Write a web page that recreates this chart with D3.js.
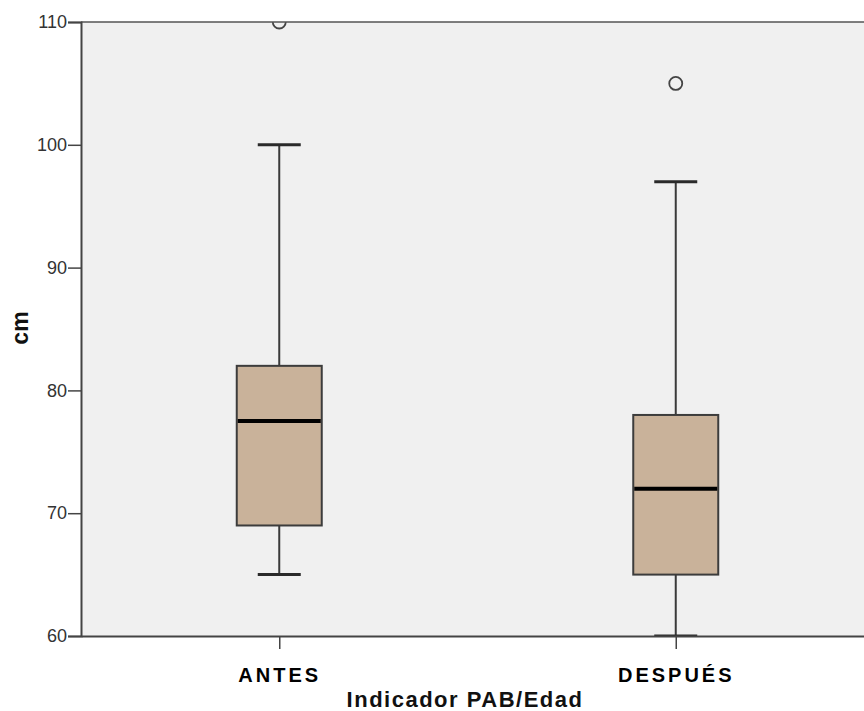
<!DOCTYPE html>
<html>
<head>
<meta charset="utf-8">
<script src="https://cdn.jsdelivr.net/npm/d3@7"></script>
<style>
  body { margin: 0; background: #fff; }
  text { font-family: "Liberation Sans", Arial, sans-serif; }
</style>
</head>
<body>
<script>
// data
var groups = ["ANTES", "DESPUÉS"];
var whiskerLow = [65, 60];
var q1 = [69, 65];
var medians = [77.5, 72];
var q3 = [82, 78];
var whiskerHigh = [100, 97];
var outliers = [[110], [105]];
var yTicks = [60, 70, 80, 90, 100, 110];

var width = 864, height = 711;
var margin = {top: 22, left: 81, bottom: 75};
var plotRight = 874;
var plotBottom = height - margin.bottom;

var svg = d3.select("body").append("svg")
    .attr("width", width)
    .attr("height", height);

var x = d3.scalePoint().domain(groups).range([margin.left, plotRight]).padding(0.5);
var y = d3.scaleLinear().domain([60, 110]).range([plotBottom, margin.top]);

svg.append("defs").append("clipPath").attr("id", "plotclip")
  .append("rect")
    .attr("x", margin.left).attr("y", margin.top)
    .attr("width", plotRight - margin.left).attr("height", plotBottom - margin.top);

// background
svg.append("rect")
    .attr("x", margin.left).attr("y", margin.top)
    .attr("width", plotRight - margin.left).attr("height", plotBottom - margin.top)
    .attr("fill", "#f0f0f0");

var boxW = 85, capW = 43;
var data = groups.map(function(g, i) {
  return {name: g, lo: whiskerLow[i], q1: q1[i], med: medians[i], q3: q3[i], hi: whiskerHigh[i], out: outliers[i]};
});

var g = svg.append("g").attr("clip-path", "url(#plotclip)");

var box = g.selectAll(".box").data(data).enter().append("g").attr("class", "box");

// whiskers
box.append("line")
    .attr("x1", function(d) { return x(d.name); })
    .attr("x2", function(d) { return x(d.name); })
    .attr("y1", function(d) { return y(d.lo); })
    .attr("y2", function(d) { return y(d.hi); })
    .attr("stroke", "#3a3a3a").attr("stroke-width", 2);

box.selectAll(".cap").data(function(d) { return [d.lo, d.hi].map(function(v) { return {name: d.name, v: v}; }); })
  .enter().append("line")
    .attr("x1", function(d) { return x(d.name) - capW / 2; })
    .attr("x2", function(d) { return x(d.name) + capW / 2; })
    .attr("y1", function(d) { return y(d.v); })
    .attr("y2", function(d) { return y(d.v); })
    .attr("stroke", "#2a2a2a").attr("stroke-width", 3);

box.append("rect")
    .attr("x", function(d) { return x(d.name) - boxW / 2; })
    .attr("y", function(d) { return y(d.q3); })
    .attr("width", boxW)
    .attr("height", function(d) { return y(d.q1) - y(d.q3); })
    .attr("fill", "#c9b29a")
    .attr("stroke", "#3c3c3c").attr("stroke-width", 2);

box.append("line")
    .attr("x1", function(d) { return x(d.name) - boxW / 2 + 1; })
    .attr("x2", function(d) { return x(d.name) + boxW / 2 - 1; })
    .attr("y1", function(d) { return y(d.med); })
    .attr("y2", function(d) { return y(d.med); })
    .attr("stroke", "#000").attr("stroke-width", 4);

box.selectAll(".out").data(function(d) { return d.out.map(function(v) { return {name: d.name, v: v}; }); })
  .enter().append("circle")
    .attr("cx", function(d) { return x(d.name); })
    .attr("cy", function(d) { return y(d.v); })
    .attr("r", 6.5)
    .attr("fill", "none")
    .attr("stroke", "#444").attr("stroke-width", 1.8);

// top border
svg.append("line")
    .attr("x1", margin.left).attr("x2", plotRight)
    .attr("y1", margin.top).attr("y2", margin.top)
    .attr("stroke", "#555").attr("stroke-width", 1.5);

// y axis
var yAxis = svg.append("g")
    .attr("transform", "translate(" + margin.left + ",0)")
    .call(d3.axisLeft(y).tickValues(yTicks).tickSize(13).tickPadding(1));
yAxis.select(".domain").attr("stroke", "#444").attr("stroke-width", 2);
yAxis.selectAll(".tick line").attr("stroke", "#444").attr("stroke-width", 1.5);
yAxis.selectAll(".tick text")
    .attr("font-size", 18)
    .attr("fill", "#333")
    .attr("font-family", "Liberation Sans, Arial, sans-serif");

// x axis
var xAxis = svg.append("g")
    .attr("transform", "translate(0," + plotBottom + ")")
    .call(d3.axisBottom(x).tickSize(13).tickSizeOuter(0).tickPadding(19));
xAxis.select(".domain").attr("stroke", "#444").attr("stroke-width", 2);
xAxis.selectAll(".tick line").attr("stroke", "#444").attr("stroke-width", 1.5);
xAxis.selectAll(".tick text")
    .attr("font-size", 20)
    .attr("font-weight", "bold")
    .attr("letter-spacing", 3)
    .attr("fill", "#000")
    .attr("font-family", "Liberation Sans, Arial, sans-serif");

// axis titles
svg.append("text")
    .attr("x", 465).attr("y", 707)
    .attr("text-anchor", "middle")
    .attr("font-size", 22)
    .attr("font-weight", "bold")
    .attr("letter-spacing", 1.5)
    .attr("fill", "#111")
    .text("Indicador PAB/Edad");

svg.append("text")
    .attr("transform", "translate(28,328) rotate(-90)")
    .attr("text-anchor", "middle")
    .attr("font-size", 23)
    .attr("font-weight", "bold")
    .attr("fill", "#111")
    .text("cm");
</script>
</body>
</html>
